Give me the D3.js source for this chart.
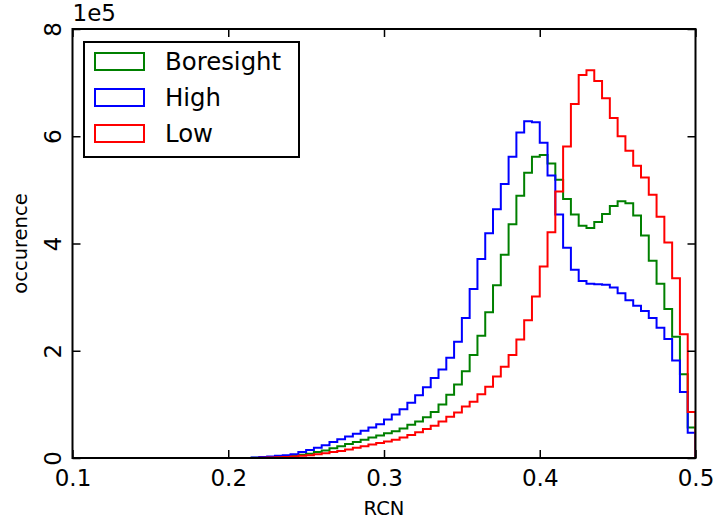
<!DOCTYPE html>
<html>
<head>
<meta charset="utf-8">
<script src="https://cdn.jsdelivr.net/npm/d3@7"></script>
<style>
  body { margin: 0; background: #fff; }
  svg text { font-family: "DejaVu Sans", sans-serif; fill: #000; }
</style>
</head>
<body>
<svg id="chart" width="715" height="527"></svg>
<script>
// histogram bins: 80 bins of width 0.005 from 0.1 to 0.5
const binStart = 0.1;
const binWidth = 0.005;

// counts per bin, in units of 1e5
const boresight = [
  0, 0, 0, 0, 0, 0, 0, 0, 0, 0,
  0, 0, 0, 0, 0, 0, 0, 0, 0, 0,
  0, 0, 0, 0.005, 0.01, 0.015, 0.02, 0.03, 0.04, 0.06,
  0.08, 0.11, 0.14, 0.18, 0.22, 0.26, 0.30, 0.34, 0.38, 0.42,
  0.46, 0.50, 0.55, 0.62, 0.68, 0.76, 0.86, 1.00, 1.18, 1.37,
  1.62, 1.92, 2.28, 2.72, 3.22, 3.79, 4.36, 4.89, 5.32, 5.62,
  5.65, 5.49, 5.19, 4.83, 4.54, 4.33, 4.29, 4.40, 4.55, 4.70,
  4.79, 4.75, 4.52, 4.15, 3.68, 3.25, 2.78, 2.26, 1.56, 0.57
];
const high = [
  0, 0, 0, 0, 0, 0, 0, 0, 0, 0,
  0, 0, 0, 0, 0, 0, 0, 0, 0, 0,
  0, 0, 0, 0.01, 0.02, 0.03, 0.04, 0.05, 0.07, 0.11,
  0.15, 0.19, 0.24, 0.30, 0.35, 0.40, 0.45, 0.51, 0.57, 0.63,
  0.72, 0.81, 0.91, 1.03, 1.17, 1.32, 1.49, 1.65, 1.87, 2.17,
  2.61, 3.15, 3.71, 4.19, 4.64, 5.11, 5.62, 6.07, 6.28, 6.26,
  5.88, 5.27, 4.54, 3.92, 3.51, 3.30, 3.25, 3.24, 3.23, 3.18,
  3.07, 2.94, 2.84, 2.74, 2.61, 2.43, 2.22, 1.82, 1.23, 0.47
];
const low = [
  0, 0, 0, 0, 0, 0, 0, 0, 0, 0,
  0, 0, 0, 0, 0, 0, 0, 0, 0, 0,
  0, 0, 0, 0, 0.005, 0.01, 0.015, 0.02, 0.03, 0.04,
  0.05, 0.07, 0.09, 0.11, 0.13, 0.16, 0.19, 0.22, 0.25, 0.28,
  0.31, 0.34, 0.38, 0.43, 0.48, 0.54, 0.60, 0.68, 0.77, 0.85,
  0.96, 1.05, 1.19, 1.33, 1.52, 1.70, 1.92, 2.21, 2.57, 3.01,
  3.57, 4.21, 4.97, 5.81, 6.60, 7.14, 7.23, 7.03, 6.71, 6.34,
  6.00, 5.73, 5.45, 5.23, 4.91, 4.50, 4.02, 3.35, 2.31, 0.86
];

const seriesNames = ['Boresight', 'High', 'Low'];
const seriesColors = ['#008000', '#0000ff', '#ff0000'];
const seriesData = [boresight, high, low];

const xTicks = [0.1, 0.2, 0.3, 0.4, 0.5];
const yTicks = [0, 2, 4, 6, 8];

const plotL = 72.5, plotR = 695.5, plotT = 29, plotB = 458;

let svg = d3.select('#chart');

let xScale = d3.scaleLinear().domain([0.1, 0.5]).range([plotL, plotR]);
let yScale = d3.scaleLinear().domain([0, 8]).range([plotB, plotT]);

svg.append('defs').append('clipPath').attr('id', 'plotClip')
  .append('rect')
  .attr('x', plotL).attr('y', plotT)
  .attr('width', plotR - plotL).attr('height', plotB - plotT);

// step histograms
let line = d3.line()
  .x(d => xScale(d[0]))
  .y(d => yScale(d[1]))
  .curve(d3.curveStepAfter);

seriesData.forEach((vals, s) => {
  let pts = [[binStart, 0]];
  vals.forEach((v, i) => pts.push([binStart + i * binWidth, v]));
  let end = binStart + vals.length * binWidth;
  pts.push([end, vals[vals.length - 1]]);
  pts.push([end, 0]);
  svg.append('path')
    .attr('clip-path', 'url(#plotClip)')
    .attr('d', line(pts))
    .style('fill', 'none')
    .style('stroke', seriesColors[s])
    .style('stroke-width', '2px')
    .style('stroke-linejoin', 'miter');
});

// axes (ticks pointing inward)
let xAxis = d3.axisBottom(xScale).tickValues(xTicks).tickSize(-8).tickPadding(12)
  .tickFormat(d3.format('.1f'));
let gx = svg.append('g').attr('transform', `translate(0, ${plotB})`).call(xAxis);
gx.select('.domain').remove();
gx.selectAll('text').style('font-size', '23px');

let xAxisTop = d3.axisTop(xScale).tickValues(xTicks).tickSize(-8).tickFormat('');
let gxt = svg.append('g').attr('transform', `translate(0, ${plotT})`).call(xAxisTop);
gxt.select('.domain').remove();

let yAxis = d3.axisLeft(yScale).tickValues(yTicks).tickSize(-8).tickFormat(d3.format('d'));
let gy = svg.append('g').attr('transform', `translate(${plotL}, 0)`).call(yAxis);
gy.select('.domain').remove();
gy.selectAll('text')
  .attr('transform', 'rotate(-90)')
  .attr('x', 0).attr('y', -12).attr('dy', 0)
  .attr('text-anchor', 'middle')
  .style('font-size', '23px');

let yAxisRight = d3.axisRight(yScale).tickValues(yTicks).tickSize(-8).tickFormat('');
let gyr = svg.append('g').attr('transform', `translate(${plotR}, 0)`).call(yAxisRight);
gyr.select('.domain').remove();

svg.selectAll('.tick line').style('stroke', '#000').style('stroke-width', '1.5px');

// frame
svg.append('rect')
  .attr('x', plotL).attr('y', plotT)
  .attr('width', plotR - plotL).attr('height', plotB - plotT)
  .style('fill', 'none').style('stroke', '#000').style('stroke-width', '2px');

// offset text and axis labels
svg.append('text').attr('x', plotL).attr('y', 21)
  .style('font-size', '23px').text('1e5');

svg.append('text').attr('x', (plotL + plotR) / 2).attr('y', 515)
  .attr('text-anchor', 'middle').style('font-size', '19.5px').text('RCN');

svg.append('text')
  .attr('transform', `translate(27, ${(plotT + plotB) / 2}) rotate(-90)`)
  .attr('text-anchor', 'middle').style('font-size', '19.5px').text('occurence');

// legend
let legend = svg.append('g');
legend.append('rect')
  .attr('x', 84).attr('y', 42).attr('width', 215).attr('height', 115)
  .style('fill', '#fff').style('stroke', '#000').style('stroke-width', '2px');

seriesNames.forEach((name, i) => {
  let y0 = 53 + i * 36;
  legend.append('rect')
    .attr('x', 95).attr('y', y0).attr('width', 49).attr('height', 17)
    .style('fill', 'none').style('stroke', seriesColors[i]).style('stroke-width', '2px');
  legend.append('text')
    .attr('x', 165).attr('y', y0 + 17)
    .style('font-size', '24.4px').text(name);
});
</script>
</body>
</html>
